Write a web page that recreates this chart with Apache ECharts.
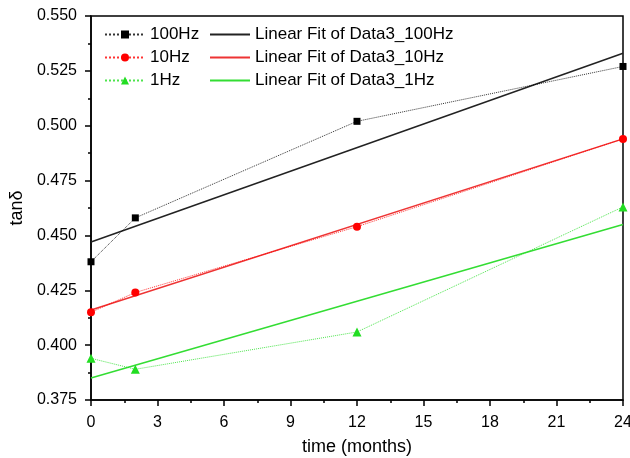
<!DOCTYPE html>
<html>
<head>
<meta charset="utf-8">
<script src="https://cdn.jsdelivr.net/npm/echarts@6/dist/echarts.min.js"></script>
<style>
  html, body { margin: 0; padding: 0; background: #fff; }
  #chart { width: 630px; height: 458px; }
</style>
</head>
<body>
<div id="chart"></div>
<script>
// measured points
const months = [0, 2, 12, 24];
const tan100 = [0.438, 0.458, 0.502, 0.527];
const tan10 = [0.415, 0.424, 0.454, 0.494];
const tan1 = [0.394, 0.389, 0.406, 0.463];

// fit lines, read at both ends of the axis
const fitX = [0, 24];
const fit100 = [0.447, 0.533];
const fit10 = [0.416, 0.494];
const fit1 = [0.385, 0.455];

const xTicks = [0, 3, 6, 9, 12, 15, 18, 21, 24];
const yTicks = ['0.375', '0.400', '0.425', '0.450', '0.475', '0.500', '0.525', '0.550'];

const fitNames = ['Linear Fit of Data3_100Hz', 'Linear Fit of Data3_10Hz', 'Linear Fit of Data3_1Hz'];

const pairs = (xs, ys) => xs.map((x, i) => [x, ys[i]]);

const myChart = echarts.init(document.getElementById('chart'));

const font = 'Liberation Sans, Arial, sans-serif';

const dataSeries = (name, ys, color, symbol, size) => ({
  name: name,
  type: 'line',
  data: pairs(months, ys),
  symbol: symbol,
  symbolSize: size,
  lineStyle: { color: color, width: 1, type: 'dotted', opacity: 0.8 },
  itemStyle: { color: color },
  z: 3
});

const fitSeries = (name, ys, color) => ({
  name: name,
  type: 'line',
  data: pairs(fitX, ys),
  symbol: 'none',
  lineStyle: { color: color, width: 1.5 },
  itemStyle: { color: color },
  z: 2
});

const legendText = { fontFamily: font, fontSize: 17, color: '#000', lineHeight: 17 };

const option = {
  animation: false,
  grid: {
    left: 91, right: 7, top: 16, bottom: 58,
    outerBoundsMode: 'none',
    show: true, borderColor: '#000', borderWidth: 1.5
  },
  legend: [
    {
      orient: 'vertical', left: 99, top: 21, itemGap: 6,
      itemWidth: 40, itemHeight: 10,
      textStyle: legendText,
      data: ['100Hz', '10Hz', '1Hz']
    },
    {
      orient: 'vertical', left: 205, top: 21, itemGap: 6,
      itemWidth: 40, itemHeight: 2,
      textStyle: legendText,
      data: fitNames.map(n => ({ name: n, icon: 'rect' }))
    }
  ],
  xAxis: {
    type: 'value', min: 0, max: 24, interval: 3,
    name: 'time (months)', nameLocation: 'middle', nameGap: 38,
    nameTextStyle: { fontFamily: font, fontSize: 18, color: '#000' },
    axisLine: { lineStyle: { color: '#000', width: 1.5 } },
    axisTick: { show: true, length: 6, lineStyle: { color: '#000', width: 1.5 } },
    minorTick: { show: true, splitNumber: 2, length: 3, lineStyle: { color: '#000', width: 1.5 } },
    splitLine: { show: false },
    axisLabel: {
      fontFamily: font, fontSize: 16, color: '#000', margin: 15,
      formatter: v => xTicks.includes(v) ? String(v) : ''
    }
  },
  yAxis: {
    type: 'value', min: 0.375, max: 0.55, interval: 0.025,
    name: 'tanδ', nameLocation: 'middle', nameGap: 60, nameRotate: 90,
    nameTextStyle: { fontFamily: font, fontSize: 18, color: '#000' },
    axisLine: { show: true, lineStyle: { color: '#000', width: 1.5 } },
    axisTick: { show: true, length: 6, lineStyle: { color: '#000', width: 1.5 } },
    minorTick: { show: true, splitNumber: 2, length: 3, lineStyle: { color: '#000', width: 1.5 } },
    splitLine: { show: false },
    axisLabel: {
      fontFamily: font, fontSize: 16, color: '#000', margin: 14,
      formatter: v => yTicks[Math.round((v - 0.375) / 0.025)] || ''
    }
  },
  series: [
    dataSeries('100Hz', tan100, '#000000', 'rect', 7),
    dataSeries('10Hz', tan10, '#ff0000', 'circle', 8),
    dataSeries('1Hz', tan1, '#22dd22', 'triangle', 9),
    fitSeries(fitNames[0], fit100, '#222222'),
    fitSeries(fitNames[1], fit10, '#ee3333'),
    fitSeries(fitNames[2], fit1, '#33dd33')
  ]
};

myChart.setOption(option);
</script>
</body>
</html>
